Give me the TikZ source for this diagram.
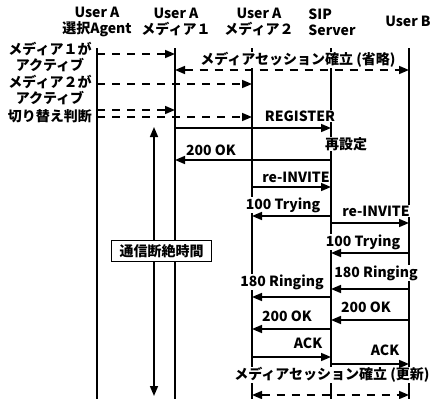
\documentclass[tikz,border=0pt]{standalone}
\usepackage{fontspec}
\setmainfont{Noto Sans CJK JP}
\usetikzlibrary{arrows.meta}
\tikzset{
  life/.style={line width=2.2pt},
  msg/.style={line width=1.6pt,-{Triangle[length=10pt,width=8pt]}},
  dmsg/.style={msg,dash pattern=on 8pt off 7pt},
  both/.style={{Triangle[length=10pt,width=8pt]}-{Triangle[length=10pt,width=8pt]}},
  lbl/.style={fill=white,inner sep=0.5pt},
}
\begin{document}
\begin{tikzpicture}[x=1pt,y=-1pt,font=\bfseries\fontsize{14}{16}\selectfont]
\useasboundingbox (0,0) rectangle (434,399);
% lifelines
\foreach \n/\x in {la/97,lm1/175,lm2/252,ls/331,lb/409}{
  \coordinate (\n) at (\x,48);
  \draw[life] (\n) -- (\x,399);
}
% headers
\node[align=center] (hagent) at (97,22) {User A\\選択Agent};
\node[align=center] (hm1) at (176,22) {User A\\メディア１};
\node[align=center] (hm2) at (259,22) {User A\\メディア２};
\node[align=left] (hsip) at (332,22) {SIP\\Server};
\node (hb) at (408,21) {User B};
% agent side
\node[align=center] (act1) at (50,57) {メディア１が\\アクティブ};
\node[align=center] (act2) at (50,90) {メディア２が\\アクティブ};
\node (judge) at (50,116) {切り替え判断};
% labels
\node[lbl] (ses1) at (298,60) {メディアセッション確立 (省略)};
\node[lbl] (t1) at (300,116) {REGISTER};
\node[lbl] (t2) at (346,144) {再設定};
\node[lbl] (t3) at (211,150) {200 OK};
\node[lbl] (t4) at (296,177) {re-INVITE};
\node[lbl] (t5) at (283,205) {100 Trying};
\node[lbl] (t6) at (376,211) {re-INVITE};
\node[lbl] (t7) at (363,242) {100 Trying};
\node[lbl] (t8) at (376,273) {180 Ringing};
\node[lbl] (t9) at (282,282) {180 Ringing};
\node[lbl] (t10) at (366,307) {200 OK};
\node[lbl] (t11) at (287,316) {200 OK};
\node[lbl] (t12) at (308,343) {ACK};
\node[lbl] (t13) at (385,350) {ACK};
\node[lbl] (ses2) at (332,375) {メディアセッション確立 (更新)};
% messages
\draw[dmsg] (la |- 0,54) -- (lm1 |- 0,54);
\draw[dmsg,both] (lm1 |- 0,70) -- (lb |- 0,70);
\draw[dmsg] (la |- 0,84) -- (lm2 |- 0,84);
\draw[dmsg] (la |- 0,110) -- (lm1 |- 0,110);
\draw[dmsg] (la |- 0,117) -- (lm2 |- 0,117);
\draw[msg] (lm1 |- 0,128) -- (ls |- 0,128);
\draw[msg] (ls |- 0,160) -- (lm1 |- 0,160);
\draw[msg] (lm2 |- 0,187) -- (ls |- 0,187);
\draw[msg] (ls |- 0,216) -- (lm2 |- 0,216);
\draw[msg] (ls |- 0,223) -- (lb |- 0,223);
\draw[msg] (lb |- 0,253) -- (ls |- 0,253);
\draw[msg] (lb |- 0,289) -- (ls |- 0,289);
\draw[msg] (ls |- 0,297) -- (lm2 |- 0,297);
\draw[msg] (lb |- 0,320) -- (ls |- 0,320);
\draw[msg] (ls |- 0,329) -- (lm2 |- 0,329);
\draw[msg] (lm2 |- 0,357) -- (ls |- 0,357);
\draw[msg] (ls |- 0,364) -- (lb |- 0,364);
\draw[dmsg,both] (lm2 |- 0,395) -- (lb |- 0,395);
% outage time
\node[draw,fill=white,line width=1.2pt,inner xsep=8pt,inner ysep=4pt] (gap) at (161.5,251) {通信断絶時間};
\coordinate (tA) at (154,127);
\coordinate (tB) at (154,396);
\draw[msg] (gap.north -| tA) -- (tA);
\draw[msg] (gap.south -| tB) -- (tB);
\end{tikzpicture}
\end{document}
